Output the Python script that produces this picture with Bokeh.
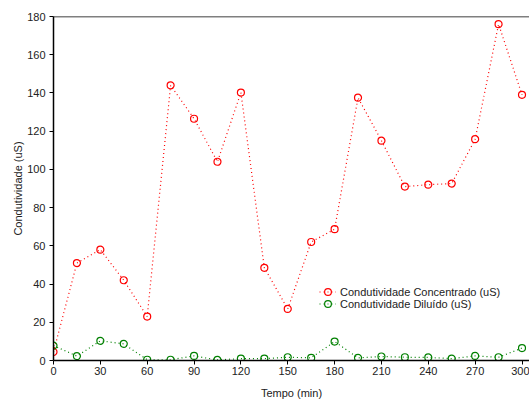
from bokeh.plotting import figure
from bokeh.models import Range1d, Span, FixedTicker, Legend, LegendItem
from bokeh.embed import file_html
from bokeh.resources import INLINE

tempo = [0, 15, 30, 45, 60, 75, 90, 105, 120, 135, 150, 165, 180, 195, 210, 225, 240, 255, 270, 285, 300]
concentrado = [4.5, 51, 58, 42, 23, 144, 126.5, 104, 140.2, 48.5, 27, 62, 68.7, 137.5, 115, 91, 92, 92.6, 115.8, 176, 139]
diluido = [7.8, 2.3, 10.3, 8.7, 0.4, 0.4, 2.4, 0.3, 1.0, 1.0, 1.7, 1.4, 9.9, 1.4, 2.1, 1.7, 1.6, 1.0, 2.4, 1.7, 6.5]
x_ticks = [0, 30, 60, 90, 120, 150, 180, 210, 240, 270, 300]
y_ticks = [0, 20, 40, 60, 80, 100, 120, 140, 160, 180]

FONT = "Liberation Sans"
RED = "#ff0000"
GREEN = "#008000"

p = figure(width=529, height=403, output_backend="svg", toolbar_location=None,
           x_range=Range1d(0, 304.8), y_range=Range1d(0, 180),
           min_border_top=16, min_border_right=0, min_border_left=53, min_border_bottom=43)
p.outline_line_color = None
p.xgrid.visible = False
p.ygrid.visible = False
p.background_fill_color = "white"
p.border_fill_color = "white"

for ax in (p.xaxis[0], p.yaxis[0]):
    ax.axis_line_color = "black"
    ax.axis_line_width = 1.5
    ax.major_tick_line_color = "black"
    ax.major_tick_out = 4
    ax.major_tick_in = 0
    ax.minor_tick_line_color = None
    ax.major_label_text_font = FONT
    ax.major_label_text_font_size = "11px"
    ax.major_label_text_color = "#222222"
    ax.axis_label_text_font = FONT
    ax.axis_label_text_font_size = "11px"
    ax.axis_label_text_font_style = "normal"
    ax.axis_label_text_color = "#222222"

p.xaxis.ticker = FixedTicker(ticks=x_ticks)
p.yaxis.ticker = FixedTicker(ticks=y_ticks)
p.xaxis.axis_label = "Tempo (min)"
p.yaxis.axis_label = "Condutividade (uS)"
p.xaxis.major_label_standoff = 2
p.xaxis.axis_label_standoff = 9
p.yaxis.major_label_standoff = 4
p.yaxis.axis_label_standoff = 0

p.add_layout(Span(location=180, dimension="width", line_color="black", line_width=1.5))

l1 = p.line(tempo, concentrado, line_color=RED, line_dash="1 3", line_width=1.2)
s1 = p.scatter(tempo, concentrado, marker="circle", size=7, fill_color=None, line_color=RED, line_width=1.2)
l2 = p.line(tempo, diluido, line_color=GREEN, line_dash="1 3", line_width=1.2)
s2 = p.scatter(tempo, diluido, marker="circle", size=7, fill_color=None, line_color=GREEN, line_width=1.2)


def make_legend(label, renderers, loc):
    lg = Legend(items=[LegendItem(label=label, renderers=renderers)], location=loc)
    lg.label_text_font = FONT
    lg.label_text_font_size = "11px"
    lg.label_text_color = "#222222"
    lg.glyph_width = 17
    lg.glyph_height = 17
    lg.label_height = 12
    lg.label_standoff = 4
    lg.spacing = 0
    lg.padding = 0
    lg.margin = 0
    lg.border_line_color = None
    lg.background_fill_alpha = 0
    p.add_layout(lg, "center")


make_legend("Condutividade Concentrado (uS)", [l1, s1], (266, 60))
make_legend("Condutividade Diluído (uS)", [l2, s2], (266, 48))

open("out.html", "w").write(file_html(p, INLINE))
